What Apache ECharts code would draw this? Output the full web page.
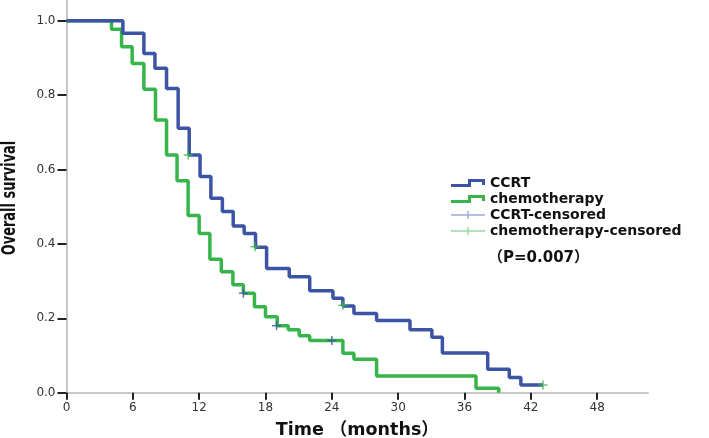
<!DOCTYPE html>
<html>
<head>
<meta charset="utf-8">
<script src="https://cdn.jsdelivr.net/npm/echarts@6/dist/echarts.min.js"></script>
<style>html,body{margin:0;padding:0;background:#fff}#c{width:709px;height:438px}</style>
</head>
<body>
<div id="c"></div>
<script>
// Kaplan-Meier step data (time in months, survival)
var ccrtTimes = [0, 5.1, 7.0, 8.0, 9.05, 10.1, 11.1, 12.08, 13.06, 14.1, 15.08, 16.07, 17.1, 18.1, 20.15, 22.0, 24.1, 25.0, 26.0, 28.05, 31.07, 33.05, 34.0, 38.1, 40.05, 41.1, 43.1];
var ccrtSurv  = [1.0, 0.966, 0.912, 0.872, 0.818, 0.711, 0.639, 0.581, 0.523, 0.487, 0.448, 0.428, 0.391, 0.334, 0.312, 0.274, 0.254, 0.233, 0.213, 0.194, 0.169, 0.149, 0.107, 0.063, 0.041, 0.021, 0.021];
var chemoTimes = [0, 4.07, 4.98, 5.94, 7.0, 8.05, 9.05, 10.0, 11.0, 12.0, 12.97, 14.0, 15.05, 16.0, 17.0, 18.0, 19.06, 20.06, 21.05, 22.0, 25.0, 26.0, 28.05, 37.04, 39.1];
var chemoSurv  = [1.0, 0.977, 0.930, 0.885, 0.816, 0.733, 0.639, 0.570, 0.476, 0.428, 0.359, 0.325, 0.290, 0.267, 0.231, 0.204, 0.180, 0.169, 0.153, 0.140, 0.106, 0.090, 0.045, 0.012, 0.0];
// censor marks as drawn (marks on the CCRT curve are drawn green, on the chemotherapy curve blue)
var greenCensorTimes = [11.0, 17.05, 25.0, 43.1];
var greenCensorSurv  = [0.639, 0.392, 0.235, 0.021];
var blueCensorTimes = [16.0, 19.0, 24.0];
var blueCensorSurv  = [0.267, 0.180, 0.140];
var xTicks = [0, 6, 12, 18, 24, 30, 36, 42, 48];
var yTicks = [0, 0.2, 0.4, 0.6, 0.8, 1.0];
var seriesNames = ['CCRT', 'chemotherapy', 'CCRT-censored', 'chemotherapy-censored'];
var yTitle = 'Overall survival';
var xTitle = 'Time （months）';
var pText = '（P=0.007）';

function pairs(xs, ys) { return xs.map(function (x, i) { return [x, ys[i]]; }); }

var BLUE = '#3c54a4', GREEN = '#37b54a', LBLUE = '#8595d2', LGREEN = '#82cf8c';
var stepIcon = 'path://M0,5L17,5L17,0L34,0L34,6L31,6L31,3L20,3L20,8L0,8Z';
var crossIcon = 'path://M0,3.3L34,3.3L34,4.7L0,4.7ZM16.3,0L17.7,0L17.7,8L16.3,8Z';
var plus = 'path://M0,5L10,5M5,0L5,10';
var fontMain = "'DejaVu Sans', 'Noto Sans CJK SC', sans-serif";

var chart = echarts.init(document.getElementById('c'), null, {renderer: 'canvas'});
chart.setOption({
  animation: false,
  backgroundColor: '#fff',
  grid: {left: 66.5, right: 61, top: 0, bottom: 45.3, containLabel: false, outerBoundsMode: 'none'},
  xAxis: {
    type: 'value', min: 0, max: 52.6, interval: 6,
    name: xTitle, nameLocation: 'middle', nameGap: 29,
    nameTextStyle: {fontFamily: fontMain, fontWeight: 'bold', fontSize: 17.5, color: '#111'},
    axisLine: {show: true, lineStyle: {color: '#c8c8c8', width: 2}},
    axisTick: {show: true, inside: false, length: 7, lineStyle: {color: '#222', width: 2}, customValues: xTicks},
    axisLabel: {customValues: xTicks, fontFamily: fontMain, fontSize: 12, color: '#333', margin: 9},
    splitLine: {show: false}
  },
  yAxis: {
    type: 'value', min: 0, max: 1.0556, interval: 0.2,
    axisLine: {show: true, lineStyle: {color: '#c8c8c8', width: 2}},
    axisTick: {show: true, inside: false, length: 9, lineStyle: {color: '#222', width: 2}, customValues: yTicks},
    axisLabel: {customValues: yTicks, fontFamily: fontMain, fontSize: 12, color: '#333', margin: 11,
      formatter: function (v) { return v.toFixed(1); }},
    splitLine: {show: false}
  },
  legend: {
    orient: 'vertical', left: 451, top: 176, padding: 0, itemWidth: 34, itemHeight: 8, itemGap: 2,
    symbolKeepAspect: false,
    textStyle: {fontFamily: fontMain, fontWeight: 'bold', fontSize: 14, color: '#111', lineHeight: 14},
    data: [
      {name: seriesNames[0], icon: stepIcon, itemStyle: {color: BLUE, borderWidth: 0}},
      {name: seriesNames[1], icon: stepIcon, itemStyle: {color: GREEN, borderWidth: 0}},
      {name: seriesNames[2], icon: crossIcon, itemStyle: {color: LBLUE, borderWidth: 0}},
      {name: seriesNames[3], icon: crossIcon, itemStyle: {color: LGREEN, borderWidth: 0}}
    ]
  },
  graphic: [
    {type: 'text', left: 488, top: 251,
     style: {text: pText, fontFamily: fontMain, fontWeight: 'bold', fontSize: 15, fill: '#111'}},
    {type: 'text', x: 10, y: 198, rotation: Math.PI / 2, scaleX: 0.72, scaleY: 1,
     style: {text: yTitle, fontFamily: "'DejaVu Sans Condensed', 'DejaVu Sans', sans-serif", fontWeight: 'bold',
       fontSize: 20, fill: '#111', align: 'center', verticalAlign: 'middle'}}
  ],
  series: [
    {name: seriesNames[0], type: 'line', step: 'end', showSymbol: false, symbol: 'none',
     data: pairs(ccrtTimes, ccrtSurv), lineStyle: {color: BLUE, width: 3.5}, itemStyle: {color: BLUE}, z: 3},
    {name: seriesNames[1], type: 'line', step: 'end', showSymbol: false, symbol: 'none',
     data: pairs(chemoTimes, chemoSurv), lineStyle: {color: GREEN, width: 3.5}, itemStyle: {color: GREEN}, z: 2},
    {name: seriesNames[2], type: 'scatter', symbol: plus, symbolSize: 9,
     data: pairs(blueCensorTimes, blueCensorSurv),
     itemStyle: {color: 'transparent', borderColor: BLUE, borderWidth: 1.5}, z: 5},
    {name: seriesNames[3], type: 'scatter', symbol: plus, symbolSize: 9,
     data: pairs(greenCensorTimes, greenCensorSurv),
     itemStyle: {color: 'transparent', borderColor: GREEN, borderWidth: 1.5}, z: 5}
  ]
});
</script>
</body>
</html>
